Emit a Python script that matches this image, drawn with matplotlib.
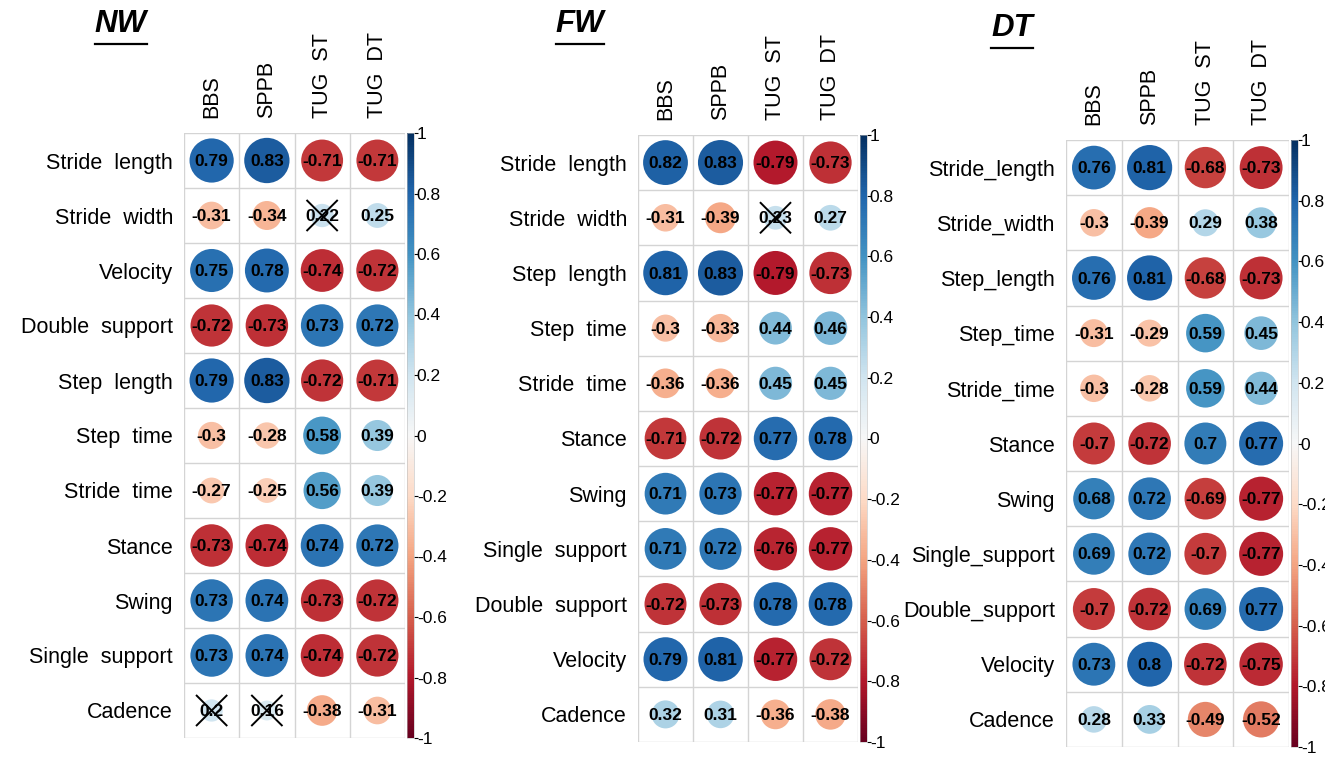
import numpy as np
import matplotlib
matplotlib.use('Agg')
import matplotlib.pyplot as plt
from matplotlib.cm import ScalarMappable
from matplotlib.colors import Normalize
from matplotlib.lines import Line2D

plt.rcParams['font.family'] = ['Liberation Sans', 'DejaVu Sans']

W, H = 1325, 765

cols = ['BBS', 'SPPB', 'TUG  ST', 'TUG  DT']

rows_nw = ['Stride  length', 'Stride  width', 'Velocity', 'Double  support', 'Step  length',
           'Step  time', 'Stride  time', 'Stance', 'Swing', 'Single  support', 'Cadence']
vals_nw = [[0.79, 0.83, -0.71, -0.71],
           [-0.31, -0.34, 0.22, 0.25],
           [0.75, 0.78, -0.74, -0.72],
           [-0.72, -0.73, 0.73, 0.72],
           [0.79, 0.83, -0.72, -0.71],
           [-0.3, -0.28, 0.58, 0.39],
           [-0.27, -0.25, 0.56, 0.39],
           [-0.73, -0.74, 0.74, 0.72],
           [0.73, 0.74, -0.73, -0.72],
           [0.73, 0.74, -0.74, -0.72],
           [0.2, 0.16, -0.38, -0.31]]
crossed_nw = [(1, 2), (10, 0), (10, 1)]

rows_fw = ['Stride  length', 'Stride  width', 'Step  length', 'Step  time', 'Stride  time',
           'Stance', 'Swing', 'Single  support', 'Double  support', 'Velocity', 'Cadence']
vals_fw = [[0.82, 0.83, -0.79, -0.73],
           [-0.31, -0.39, 0.23, 0.27],
           [0.81, 0.83, -0.79, -0.73],
           [-0.3, -0.33, 0.44, 0.46],
           [-0.36, -0.36, 0.45, 0.45],
           [-0.71, -0.72, 0.77, 0.78],
           [0.71, 0.73, -0.77, -0.77],
           [0.71, 0.72, -0.76, -0.77],
           [-0.72, -0.73, 0.78, 0.78],
           [0.79, 0.81, -0.77, -0.72],
           [0.32, 0.31, -0.36, -0.38]]
crossed_fw = [(1, 2)]

rows_dt = ['Stride_length', 'Stride_width', 'Step_length', 'Step_time', 'Stride_time',
           'Stance', 'Swing', 'Single_support', 'Double_support', 'Velocity', 'Cadence']
vals_dt = [[0.76, 0.81, -0.68, -0.73],
           [-0.3, -0.39, 0.29, 0.38],
           [0.76, 0.81, -0.68, -0.73],
           [-0.31, -0.29, 0.59, 0.45],
           [-0.3, -0.28, 0.59, 0.44],
           [-0.7, -0.72, 0.7, 0.77],
           [0.68, 0.72, -0.69, -0.77],
           [0.69, 0.72, -0.7, -0.77],
           [-0.7, -0.72, 0.69, 0.77],
           [0.73, 0.8, -0.72, -0.75],
           [0.28, 0.33, -0.49, -0.52]]
crossed_dt = []

cbar_ticks = [1, 0.8, 0.6, 0.4, 0.2, 0, -0.2, -0.4, -0.6, -0.8, -1]

cmap = plt.get_cmap('RdBu')
norm = Normalize(-1, 1)


def fmt(v):
    return ('%.2f' % v).rstrip('0').rstrip('.')


def px_axes(fig, left, right, top, bottom):
    return fig.add_axes([left / W, 1 - bottom / H, (right - left) / W, (bottom - top) / H])


def draw_panel(fig, box, cbox, rows, vals, crossed, title, title_xy):
    ax = px_axes(fig, *box)
    vals = np.array(vals)
    nr, nc = vals.shape
    ax.set_xlim(0, nc)
    ax.set_ylim(nr, 0)
    cell_px = (box[1] - box[0]) / nc
    # grid
    for i in range(nc + 1):
        ax.axvline(i, color='#d4d4d4', lw=1, zorder=1)
    for j in range(nr + 1):
        ax.axhline(j, color='#d4d4d4', lw=1, zorder=1)
    # circles, area proportional to |r|
    xs, ys, sizes, colors = [], [], [], []
    for r in range(nr):
        for c in range(nc):
            v = vals[r, c]
            d_pt = 0.9 * np.sqrt(abs(v)) * cell_px * 72 / 100
            xs.append(c + 0.5)
            ys.append(r + 0.5)
            sizes.append(d_pt ** 2)
            colors.append(cmap(norm(v)))
            ax.text(c + 0.5, r + 0.52, fmt(v), ha='center', va='center',
                    fontsize=12.5, fontweight='bold', color='black', zorder=4)
    ax.scatter(xs, ys, s=sizes, c=colors, linewidths=0, zorder=2)
    for r, c in crossed:
        ax.plot([c + 0.23, c + 0.77], [r + 0.23, r + 0.77], color='black', lw=1.4, zorder=5)
        ax.plot([c + 0.23, c + 0.77], [r + 0.77, r + 0.23], color='black', lw=1.4, zorder=5)
    ax.set_xticks(np.arange(nc) + 0.5)
    ax.set_xticklabels(cols, rotation=90, fontsize=15.5)
    ax.xaxis.tick_top()
    ax.set_yticks(np.arange(nr) + 0.5)
    ax.set_yticklabels(rows, fontsize=15.5)
    ax.tick_params(length=0, pad=8)
    ax.tick_params(axis='x', pad=11)
    for s in ax.spines.values():
        s.set_visible(False)

    # colour bar
    cax = px_axes(fig, *cbox)
    cb = fig.colorbar(ScalarMappable(norm=norm, cmap=cmap), cax=cax, ticks=cbar_ticks)
    cb.ax.set_yticklabels([fmt(t) for t in cbar_ticks])
    cb.ax.tick_params(labelsize=12.5, length=3, width=0.8, pad=-1)
    cb.outline.set_linewidth(0.4)
    cb.outline.set_edgecolor('#bbbbbb')

    # title, bold italic underlined
    t = fig.text(title_xy[0] / W, 1 - title_xy[1] / H, title, fontsize=22.5,
                 fontweight='bold', fontstyle='italic', ha='center', va='baseline')
    fig.canvas.draw()
    bb = t.get_window_extent()
    yline = bb.y0 - 5
    fig.add_artist(Line2D([bb.x0 / W, bb.x1 / W], [yline / H, yline / H],
                          color='black', lw=1.6))


fig = plt.figure(figsize=(W / 100, H / 100), dpi=100)

draw_panel(fig, (184, 405, 133, 738), (407, 414, 133, 738),
           rows_nw, vals_nw, crossed_nw, 'NW', (121, 32))
draw_panel(fig, (638, 858, 135, 742), (860, 867, 135, 742),
           rows_fw, vals_fw, crossed_fw, 'FW', (580, 32))
draw_panel(fig, (1066, 1289, 140, 747), (1291, 1298, 140, 747),
           rows_dt, vals_dt, crossed_dt, 'DT', (1012, 36))

fig.savefig('out.png', dpi=100)
